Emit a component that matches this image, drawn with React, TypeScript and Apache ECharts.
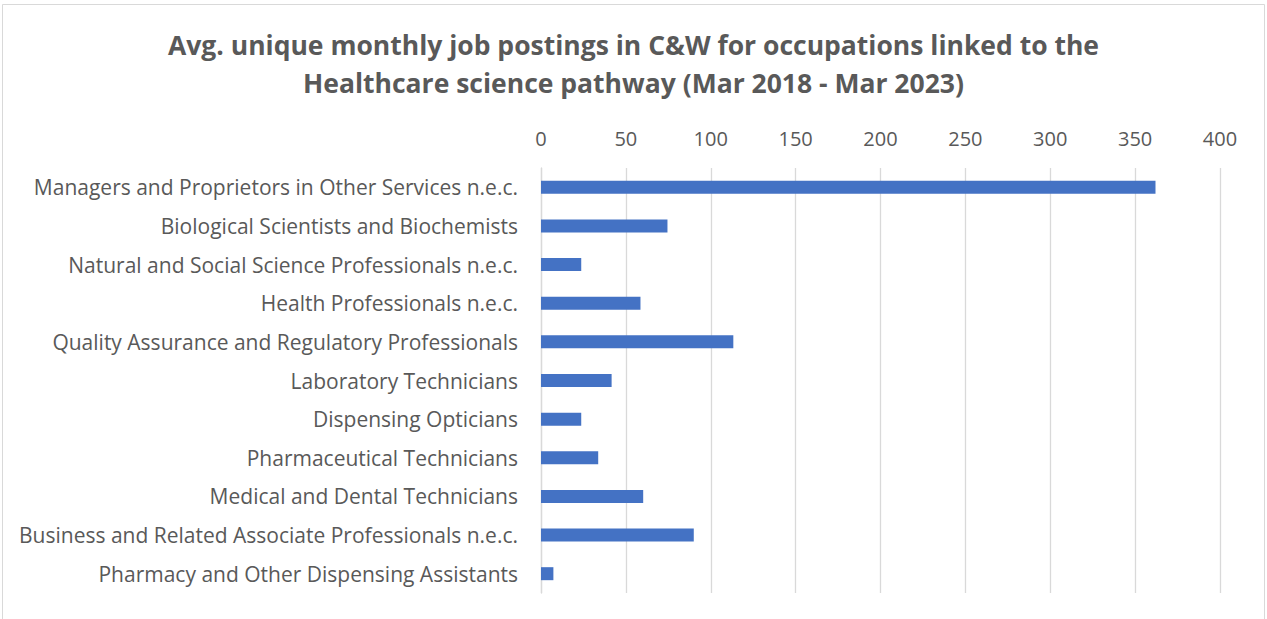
import React, { useEffect, useRef } from "react";
import * as echarts from "echarts";

const categories = [
  "Managers and Proprietors in Other Services n.e.c.",
  "Biological Scientists and Biochemists",
  "Natural and Social Science Professionals n.e.c.",
  "Health Professionals n.e.c.",
  "Quality Assurance and Regulatory Professionals",
  "Laboratory Technicians",
  "Dispensing Opticians",
  "Pharmaceutical Technicians",
  "Medical and Dental Technicians",
  "Business and Related Associate Professionals n.e.c.",
  "Pharmacy and Other Dispensing Assistants",
];
const postings = [362, 74.5, 23.7, 58.6, 113.3, 41.6, 23.7, 33.7, 60.2, 90, 7.3];
const titleLines = [
  "Avg. unique monthly job postings in C&W for occupations linked to the",
  "Healthcare science pathway (Mar 2018 - Mar 2023)",
];

export default function App() {
  const ref = useRef<HTMLDivElement>(null);
  useEffect(() => {
    if (!ref.current) return;
    const chart = echarts.init(ref.current, null, { renderer: "svg" });
    const font = "'Open Sans', sans-serif";
    chart.setOption({
      animation: false,
      backgroundColor: "#ffffff",
      textStyle: { fontFamily: font },
      title: {
        text: titleLines.join("\n"),
        left: "center",
        top: 21,
        textStyle: {
          fontFamily: font,
          fontSize: 26.5,
          fontWeight: "bold",
          color: "#595959",
          lineHeight: 38,
        },
      },
      graphic: [
        {
          type: "rect",
          shape: { x: 2.5, y: 4.5, width: 1262, height: 700 },
          style: { fill: "none", stroke: "#d9d9d9", lineWidth: 1 },
          silent: true,
        },
      ],
      grid: { left: 541, right: 47, top: 168, bottom: 26, containLabel: false },
      xAxis: {
        type: "value",
        position: "top",
        min: 0,
        max: 400,
        interval: 50,
        axisLine: { show: false },
        axisTick: { show: false },
        axisLabel: { color: "#595959", fontSize: 20, fontFamily: font, margin: 20 },
        splitLine: { show: true, lineStyle: { color: "#d9d9d9", width: 1.3 } },
      },
      yAxis: {
        type: "category",
        inverse: true,
        data: categories,
        axisLine: { show: true, lineStyle: { color: "#d9d9d9", width: 1.3 } },
        axisTick: { show: false },
        axisLabel: { color: "#595959", fontSize: 21, fontFamily: font, margin: 23 },
      },
      series: [
        {
          type: "bar",
          data: postings,
          barWidth: 13,
          itemStyle: { color: "#4472C4" },
        },
      ],
    });
    return () => chart.dispose();
  }, []);
  return (
    <div
      ref={ref}
      style={{ position: "absolute", left: 0, top: 0, width: 1267, height: 619 }}
    />
  );
}
